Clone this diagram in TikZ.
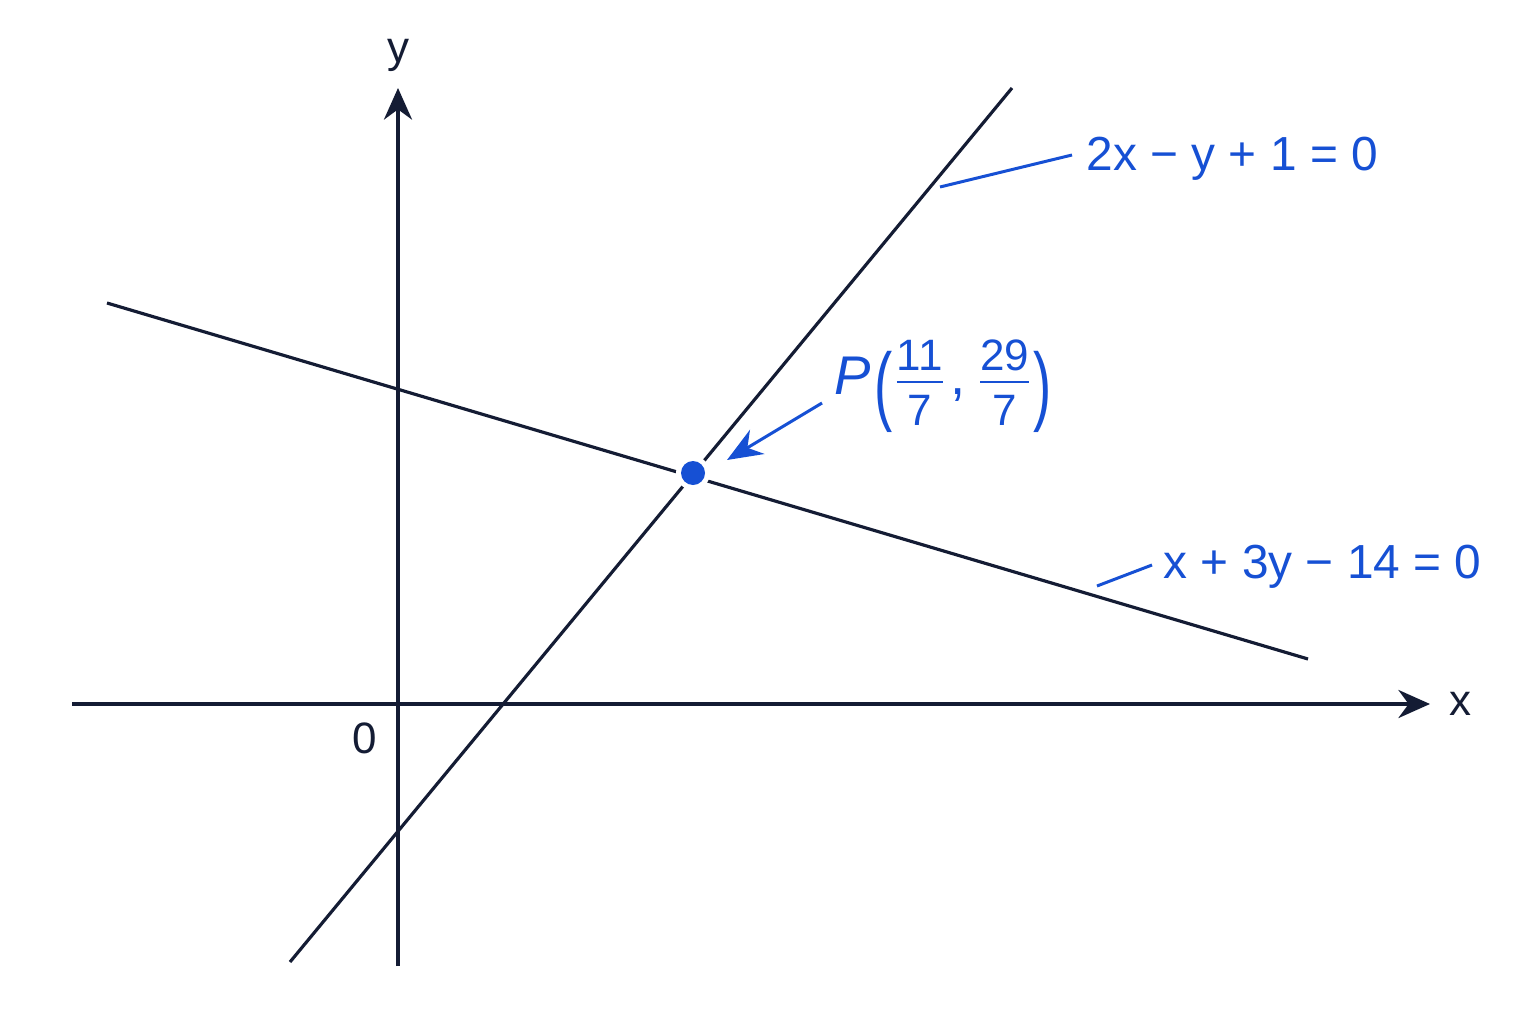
\documentclass[tikz,border=0pt]{standalone}
\usepackage{fontspec}
\usepackage{amsmath}
\setmainfont{Liberation Sans}
\usetikzlibrary{arrows.meta}
\definecolor{navy}{RGB}{20,28,52}
\definecolor{eqblue}{RGB}{22,80,212}
\newcommand{\fracnum}[2]{\ensuremath{\tfrac{\text{\fontsize{12.5}{14}\selectfont #1\rule[-2.4pt]{0pt}{1pt}}}{\text{\fontsize{12.5}{14}\selectfont\rule{0pt}{11.6pt}#2}}}}
\newcommand{\bigparen}[1]{\raisebox{-0.36em}{\scalebox{1}[1.6]{#1}}}
\tikzset{
  axis/.style={draw=navy,line width=0.9pt,-{Stealth[length=9pt,width=8pt]}},
  graphline/.style={draw=navy,line width=0.9pt},
  leader/.style={draw=eqblue,line width=0.85pt},
  eqlabel/.style={text=eqblue,font=\fontsize{13.6}{16}\selectfont,inner sep=0pt},
  axlabel/.style={text=navy,font=\fontsize{12.5}{15}\selectfont,inner sep=0pt}
}
\begin{document}
\begin{tikzpicture}[x=0.01cm,y=-0.01cm]
\useasboundingbox[fill=white] (0,0) rectangle (1536,1024);
% axes
\coordinate (xs) at (72,704);
\coordinate (xe) at (1430,704);
\coordinate (ys) at (398,966);
\coordinate (ye) at (398,88);
\draw[axis] (xs) -- (xe);
\draw[axis] (ys) -- (ye);
\node[axlabel] (xl) at (1460,704) {x};
\node[axlabel] (yl) at (398,55) {y};
\node[axlabel] (o) at (365,738) {0};
% lines
\coordinate (a1) at (290,962);
\coordinate (a2) at (1012,88);
\coordinate (b1) at (107,303);
\coordinate (b2) at (1308,659);
\draw[graphline] (a1) -- (a2);
\draw[graphline] (b1) -- (b2);
% point P
\coordinate (p) at (693,473);
\fill[white] (p) circle (17);
\fill[eqblue] (p) circle (12);
% labels
\node[eqlabel,anchor=west] (l1) at (1086,159) {2x − y + 1 = 0};
\node[eqlabel,anchor=west] (l2) at (1163,567) {x + 3y − 14 = 0};
\node[eqlabel,anchor=west,font=\fontsize{15.5}{18}\selectfont] (pl) at (834,386)
  {\textit{P}\kern1pt\bigparen{(}\fracnum{11}{7}\kern1pt,\kern3pt\fracnum{29}{7}\bigparen{)}};
% leaders
\coordinate (c1) at (940,187);
\coordinate (c2) at (1097,586);
\draw[leader] (c1) -- (1072,155);
\draw[leader] (c2) -- (1152,565);
\draw[leader,-{Stealth[length=10pt,width=8pt]}] (822,403) -- (727,460);
\end{tikzpicture}
\end{document}
